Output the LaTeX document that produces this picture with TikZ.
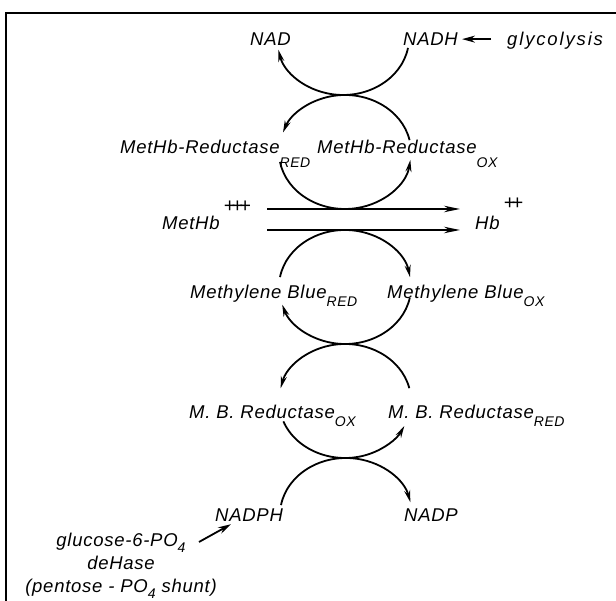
\documentclass[tikz,border=0pt]{standalone}
\usepackage{fontspec}
\setmainfont{Liberation Sans}[LetterSpace=4]
\usetikzlibrary{arrows.meta, positioning}

% lowered subscripts and charge marks as printed
\newcommand{\lowsub}[2][8pt]{\raisebox{-#1}{\fontsize{14}{14}\selectfont #2}}
\newcommand{\charge}[2][18pt]{\kern4pt\raisebox{#1}{\fontsize{20}{20}\selectfont #2}}

\begin{document}
\begin{tikzpicture}[x=1pt, y=1pt,
    lbl/.style={inner sep=0pt, anchor=base west, font=\fontsize{18.5}{23}\selectfont\itshape},
    ring/.style={x radius=66, y radius=57},
    cyc/.style={line width=1.8pt, -{Stealth[length=12pt, width=6pt]}},
    rxn/.style={line width=1.8pt, -{Stealth[length=16pt, width=6.5pt]}},
    feed/.style={line width=1.8pt, -{Stealth[length=13pt, width=7pt]}}]
    \useasboundingbox (0,0) rectangle (616,601);
    \draw[line width=2pt] (6,0) -- (6,588) -- (616,588);

    % labels
    \node[lbl] (nad) at (250,555.5) {NAD};
    \node[lbl] (nadh) at (403,555.5) {NADH};
    \node[lbl] (glyco) at (507,555.5) {\addfontfeature{LetterSpace=10}glycolysis};
    \node[lbl] (mhrRed) at (120,447.5) {MetHb-Reductase\lowsub[14pt]{RED}};
    \node[lbl] (mhrOx) at (317,447.5) {MetHb-Reductase\lowsub[14pt]{OX}};
    \node[lbl] (methb) at (162,371.5) {MetHb\charge[17pt]{+\kern-.2em+\kern-.2em+}};
    \node[lbl] (hb) at (475,371.5) {Hb\charge[19.5pt]{+\kern-.2em+}};
    \node[lbl] (mbRed) at (190,302.5) {Methylene Blue\lowsub{RED}};
    \node[lbl] (mbOx) at (387,302.5) {Methylene Blue\lowsub{OX}};
    \node[lbl] (mbrOx) at (189,182.5) {M. B. Reductase\lowsub{OX}};
    \node[lbl] (mbrRed) at (388,182.5) {M. B. Reductase\lowsub{RED}};
    \node[lbl] (nadph) at (215,79.5) {NADPH};
    \node[lbl] (nadp) at (404,79.5) {NADP};
    \node[lbl, anchor=north, align=center] (g6pd) at (121,68)
        {glucose-6-PO\lowsub[6pt]{4}\\ deHase\\ (pentose - PO\lowsub[6pt]{4} shunt)};

    % centres of the cycles
    \coordinate (c0) at (343,563);
    \coordinate (c2) at (345,449);
    \coordinate (c3) at (345,314);
    \coordinate (c4) at (345,200);
    \coordinate (c5) at (346,86);

    % start points of the arcs
    \coordinate (nadhOut) at ([shift={(c0)}]-10:66 and 57);
    \coordinate (mhrOxUp) at ([shift={(c2)}]12:66 and 57);
    \coordinate (mhrRedDn) at ([shift={(c2)}]190:66 and 57);
    \coordinate (mbRedUp) at ([shift={(c3)}]170:66 and 57);
    \coordinate (mbOxDn) at ([shift={(c3)}]-11:66 and 57);
    \coordinate (mbrRedUp) at ([shift={(c4)}]13:66 and 57);
    \coordinate (mbrOxDn) at ([shift={(c4)}]201:66 and 57);
    \coordinate (nadphOut) at ([shift={(c5)}]170:66 and 57);

    \draw[cyc] (nadhOut) arc[ring, start angle=-10, end angle=-168];
    \draw[cyc] (mhrOxUp) arc[ring, start angle=12, end angle=160];
    \draw[cyc] (mhrRedDn) arc[ring, start angle=190, end angle=352];
    \draw[cyc] (mbRedUp) arc[ring, start angle=170, end angle=10];
    \draw[cyc] (mbOxDn) arc[ring, start angle=-11, end angle=-162];
    \draw[cyc] (mbrRedUp) arc[ring, start angle=13, end angle=167];
    \draw[cyc] (mbrOxDn) arc[ring, start angle=201, end angle=334];
    \draw[cyc] (nadphOut) arc[ring, start angle=170, end angle=13];

    % MetHb -> Hb
    \coordinate (hiL) at (267,392);
    \coordinate (hiR) at (460,392);
    \coordinate (loL) at (267,371);
    \coordinate (loR) at (460,371);
    \draw[rxn] (hiL) -- (hiR);
    \draw[rxn] (loL) -- (loR);

    % feeding pathways
    \draw[feed] ([xshift=-16pt]glyco.west |- nadh.east) -- ([xshift=4pt]nadh.east);
    \coordinate (g6tail) at (199,59);
    \draw[feed] (g6tail) -- ([xshift=16pt, yshift=-2.5pt]nadph.south west);
\end{tikzpicture}
\end{document}
